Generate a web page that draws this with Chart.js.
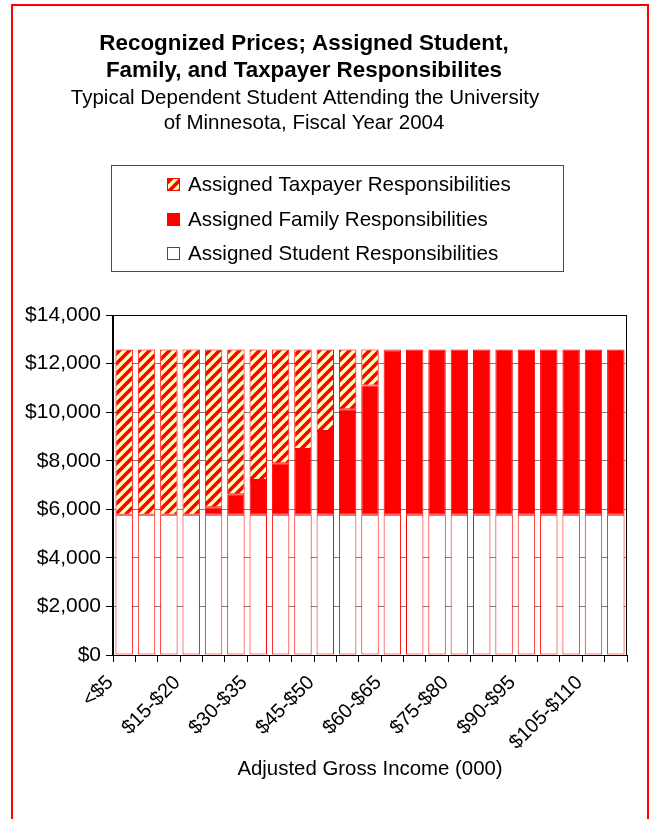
<!DOCTYPE html>
<html>
<head>
<meta charset="utf-8">
<title>Recognized Prices; Assigned Student, Family, and Taxpayer Responsibilites</title>
<script src="https://cdn.jsdelivr.net/npm/chart.js@4.4.0/dist/chart.umd.min.js"></script>
<style>
  html, body { margin: 0; padding: 0; background: #fff; }
  #wrap { position: relative; width: 649px; height: 819px; overflow: hidden; }
  #frame {
    position: absolute; left: 11px; top: 4px; width: 638px; height: 840px;
    border: 2px solid #ff0000; box-sizing: border-box; pointer-events: none;
  }
</style>
</head>
<body>
<div id="wrap">
  <canvas id="chart" width="649" height="819"></canvas>
  <div id="frame"></div>
</div>
<script>
// --- Data
const categories = ['<$5', '$5-$10', '$10-$15', '$15-$20', '$20-$25', '$25-$30', '$30-$35',
  '$35-$40', '$40-$45', '$45-$50', '$50-$55', '$55-$60', '$60-$65', '$65-$70', '$70-$75',
  '$75-$80', '$80-$85', '$85-$90', '$90-$95', '$95-$100', '$100-$105', '$105-$110', '$110-$115'];

const studentValues = [5770, 5770, 5770, 5770, 5770, 5770, 5770, 5770, 5770, 5770, 5770, 5770,
  5770, 5770, 5770, 5770, 5770, 5770, 5770, 5770, 5770, 5770, 5770];
const familyValues = [0, 0, 0, 0, 310, 850, 1440, 2130, 2710, 3450, 4350, 5330,
  6760, 6810, 6810, 6810, 6810, 6810, 6810, 6810, 6810, 6810, 6810];
const taxpayerValues = [6810, 6810, 6810, 6810, 6500, 5960, 5370, 4680, 4100, 3360, 2460, 1480,
  50, 0, 0, 0, 0, 0, 0, 0, 0, 0, 0];

const yTickLabels = ['$0', '$2,000', '$4,000', '$6,000', '$8,000', '$10,000', '$12,000', '$14,000'];

const titleLines = ['Recognized Prices; Assigned Student,', 'Family, and Taxpayer Responsibilites'];
const subtitleLines = ['Typical Dependent Student Attending the University', 'of Minnesota, Fiscal Year 2004'];

// --- Styles
const RED = '#ff0000';
const FONT = "'Liberation Sans', Arial, sans-serif";

function makeHatch() {
  const c = document.createElement('canvas');
  c.width = 10; c.height = 10;
  const g = c.getContext('2d');
  g.fillStyle = '#ffffb8';
  g.fillRect(0, 0, 10, 10);
  g.strokeStyle = RED;
  g.lineWidth = 3.6;
  g.beginPath();
  g.moveTo(-2, 12); g.lineTo(12, -2);
  g.moveTo(-7, 7); g.lineTo(7, -7);
  g.moveTo(3, 17); g.lineTo(17, 3);
  g.stroke();
  return g.createPattern(c, 'repeat');
}
const hatch = makeHatch();

// title, subtitle and boxed legend above the plot
const headerPlugin = {
  id: 'header',
  afterDraw(chart) {
    const ctx = chart.ctx;
    ctx.save();
    ctx.fillStyle = '#000';
    ctx.textAlign = 'center';
    ctx.textBaseline = 'middle';
    ctx.font = 'bold 22.4px ' + FONT;
    ctx.fillText(titleLines[0], 304, 44);
    ctx.fillText(titleLines[1], 304, 71);
    ctx.font = '20.5px ' + FONT;
    ctx.fillText(subtitleLines[0], 305, 98);
    ctx.fillText(subtitleLines[1], 304, 123);

    // legend box
    ctx.strokeStyle = RED;
    ctx.lineWidth = 1;
    ctx.strokeRect(111.5, 165.5, 452, 106);

    const items = chart.data.datasets.slice().reverse();
    const rowY = [185, 220, 254];
    ctx.textAlign = 'left';
    ctx.font = '20.6px ' + FONT;
    items.forEach((ds, i) => {
      const y = rowY[i];
      ctx.fillStyle = ds.backgroundColor;
      ctx.fillRect(167, y - 7, 13, 13);
      ctx.strokeStyle = RED;
      ctx.strokeRect(167.5, y - 6.5, 12, 12);
      ctx.fillStyle = '#000';
      ctx.fillText(ds.label, 188, y);
    });
    ctx.restore();
  }
};

// black frame round the plot area
const plotBorder = {
  id: 'plotBorder',
  afterDraw(chart) {
    const a = chart.chartArea;
    const ctx = chart.ctx;
    ctx.save();
    ctx.strokeStyle = '#000';
    ctx.lineWidth = 1;
    ctx.strokeRect(Math.round(a.left) - 0.5, Math.round(a.top) + 0.5,
      Math.round(a.right - a.left), Math.round(a.bottom - a.top));
    ctx.restore();
  }
};

const barStyle = { borderColor: RED, borderWidth: 1, borderSkipped: false,
  barPercentage: 0.78, categoryPercentage: 1 };

new Chart(document.getElementById('chart'), {
  type: 'bar',
  data: {
    labels: categories,
    datasets: [
      Object.assign({ label: 'Assigned Student Responsibilities', data: studentValues, backgroundColor: '#ffffff' }, barStyle),
      Object.assign({ label: 'Assigned Family Responsibilities', data: familyValues, backgroundColor: RED }, barStyle),
      Object.assign({ label: 'Assigned Taxpayer Responsibilities', data: taxpayerValues, backgroundColor: hatch }, barStyle)
    ]
  },
  options: {
    responsive: false,
    animation: false,
    layout: { padding: { top: 315, left: 10, right: 22, bottom: 0 } },
    plugins: {
      legend: { display: false },
      title: { display: false },
      tooltip: { enabled: false }
    },
    scales: {
      x: {
        stacked: true,
        afterFit(scale) { scale.height = 164; },
        grid: { offset: true, drawOnChartArea: false, drawTicks: true, tickLength: 7, tickColor: '#000' },
        border: { color: '#000', width: 1 },
        ticks: {
          autoSkip: false, minRotation: 45, maxRotation: 45, padding: 9, labelOffset: -14,
          color: '#000', font: { family: FONT, size: 20 },
          callback: (v, i) => (i % 3 === 0 ? categories[i] : '')
        },
        title: {
          display: true, text: 'Adjusted Gross Income (000)', color: '#000',
          font: { family: FONT, size: 20.4 }, padding: { top: 0, bottom: 37 }
        }
      },
      y: {
        stacked: true,
        min: 0, max: 14000,
        afterFit(scale) { scale.width = 103; },
        grid: { color: '#808080', tickColor: '#000', tickLength: 7 },
        border: { color: '#000', width: 1 },
        ticks: {
          stepSize: 2000, padding: 5, color: '#000', font: { family: FONT, size: 21 },
          callback: (v, i) => yTickLabels[i]
        }
      }
    }
  },
  plugins: [headerPlugin, plotBorder]
});
</script>
</body>
</html>
